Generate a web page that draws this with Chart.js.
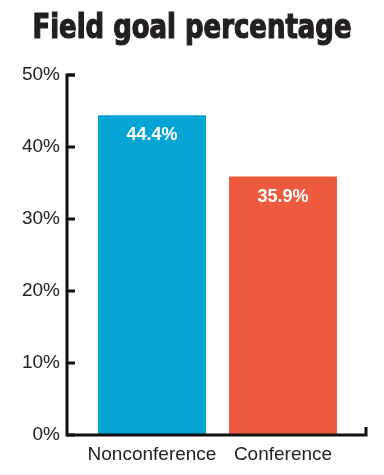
<!DOCTYPE html>
<html>
<head>
<meta charset="utf-8">
<script src="https://cdn.jsdelivr.net/npm/chart.js@4"></script>
<style>
html,body{margin:0;padding:0;background:#fff;}
#wrap{width:384px;height:475px;position:relative;}
</style>
</head>
<body>
<div id="wrap"><canvas id="c" width="384" height="475"></canvas></div>
<script>
const titleText = 'Field goal percentage';
const categories = ['Nonconference', 'Conference'];
const values = [44.4, 35.9];
const barColors = ['#04A5D5', '#EE5A3D'];
const yTicks = [0, 10, 20, 30, 40, 50];

const frame = {
  id: 'frame',
  afterDraw(chart) {
    const ctx = chart.ctx;
    const y = chart.scales.y, ca = chart.chartArea;
    const left = ca.left - 19.5, right = ca.right + 17.5;
    ctx.save();
    // title (condensed heavy headline)
    ctx.fillStyle = '#231f20';
    ctx.font = 'bold 33px "DejaVu Sans Condensed", "DejaVu Sans", sans-serif';
    ctx.textAlign = 'center';
    ctx.textBaseline = 'alphabetic';
    const tw = ctx.measureText(titleText).width;
    const sx = 319 / tw;
    ctx.save();
    ctx.translate(chart.width / 2, 38);
    ctx.scale(sx, 1);
    ctx.lineWidth = 1.2;
    ctx.strokeStyle = '#231f20';
    ctx.fillText(titleText, 0, 0);
    ctx.strokeText(titleText, 0, 0);
    ctx.restore();

    ctx.strokeStyle = '#111';
    ctx.lineWidth = 3;
    ctx.lineCap = 'butt';
    ctx.lineJoin = 'miter';
    ctx.beginPath();
    ctx.moveTo(left + 8, y.getPixelForValue(50));
    ctx.lineTo(left, y.getPixelForValue(50));
    ctx.lineTo(left, y.getPixelForValue(0));
    ctx.lineTo(right, y.getPixelForValue(0));
    ctx.lineTo(right, y.getPixelForValue(0) - 8);
    ctx.stroke();
    yTicks.forEach(v => {
      const py = y.getPixelForValue(v);
      ctx.beginPath();
      ctx.moveTo(left, py);
      ctx.lineTo(left + 8, py);
      ctx.stroke();
    });
    // value labels
    const meta = chart.getDatasetMeta(0);
    ctx.fillStyle = '#fff';
    ctx.font = 'bold 18px "Liberation Sans", Arial, sans-serif';
    ctx.textAlign = 'center';
    ctx.textBaseline = 'alphabetic';
    meta.data.forEach((bar, i) => {
      ctx.fillText(values[i].toFixed(1) + '%', bar.x, bar.y + 25);
    });
    ctx.restore();
  }
};

new Chart(document.getElementById('c'), {
  type: 'bar',
  data: {
    labels: categories,
    datasets: [{
      data: values,
      backgroundColor: barColors,
      borderWidth: 0,
      barPercentage: 0.824,
      categoryPercentage: 1
    }]
  },
  options: {
    responsive: false,
    animation: false,
    layout: { padding: { left: 0, right: 35.5, top: 75, bottom: 0 } },
    plugins: {
      legend: { display: false },
      tooltip: { enabled: false },
      title: { display: false }
    },
    scales: {
      x: {
        grid: { display: false, drawTicks: false },
        border: { display: false },
        ticks: { color: '#222', font: { family: '"Liberation Sans", Arial, sans-serif', size: 19 }, padding: 8, maxRotation: 0, minRotation: 0, autoSkip: false },
        afterFit(s) { s.height = 40; }
      },
      y: {
        min: 0, max: 50,
        afterBuildTicks(s) { s.ticks = yTicks.map(v => ({ value: v })); },
        grid: { display: false, drawTicks: false },
        border: { display: false },
        ticks: {
          color: '#222',
          font: { family: '"Liberation Sans", Arial, sans-serif', size: 19 },
          padding: 26.5,
          callback: v => v + '%'
        },
        afterFit(s) { s.width = 86.5; }
      }
    }
  },
  plugins: [frame]
});
</script>
</body>
</html>
